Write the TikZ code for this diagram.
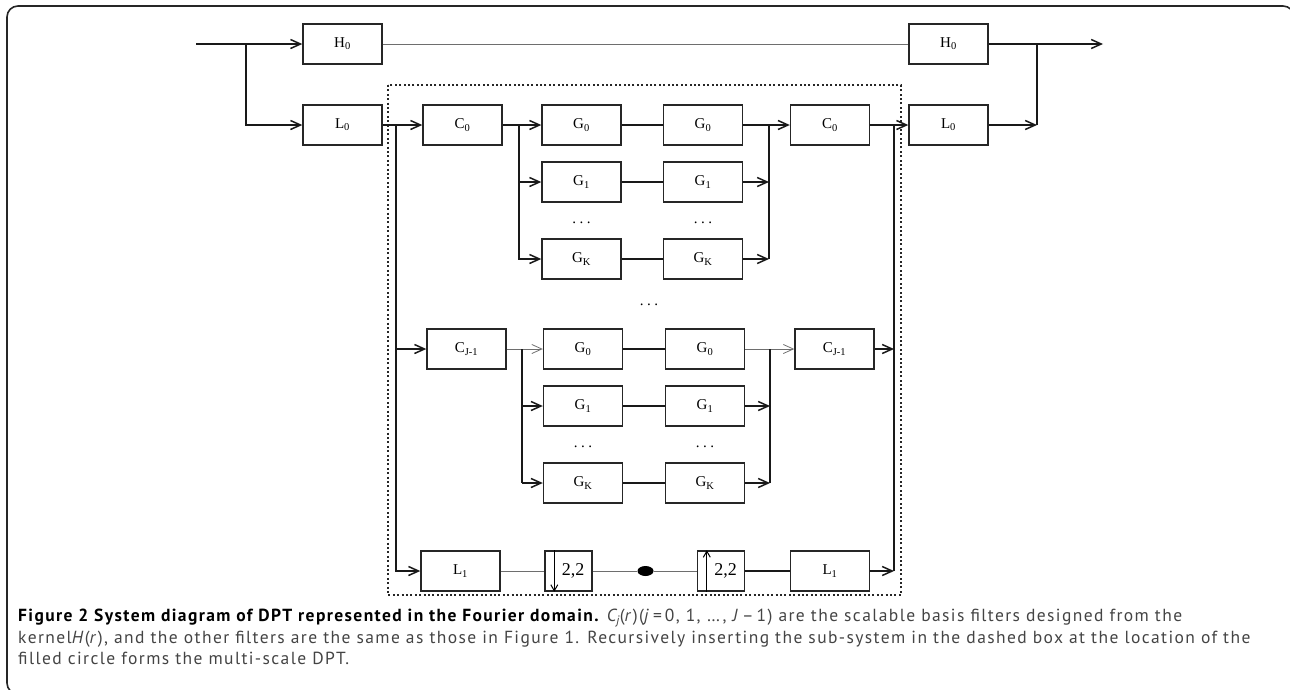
\documentclass[tikz,border=0pt]{standalone}
\usepackage{fontspec}
\usepackage{xcolor}
\usepackage{tikz}
\usetikzlibrary{arrows.meta, shapes.geometric}
\newfontfamily\blockfont{Liberation Serif}
\newfontfamily\capfont[LetterSpace=8]{PT Sans}
\definecolor{linegray}{HTML}{6E6E6E}
\definecolor{captext}{HTML}{444444}

\begin{document}
\begin{tikzpicture}[
    x=1pt, y=-1pt,
    block/.style={
        rectangle, draw=black!85, line width=1.4pt, fill=white,
        minimum width=79pt, minimum height=40pt, inner sep=0pt,
        font=\blockfont\fontsize{15}{16}\selectfont
    },
    smallblock/.style={block, minimum width=47pt, font=\blockfont\fontsize{18}{19}\selectfont},
    dots/.style={inner sep=0pt, font=\blockfont\fontsize{15}{16}\selectfont},
    wire/.style={line width=1.5pt, black!90},
    thinwire/.style={line width=0.8pt, linegray},
    arrow/.style={wire, -{Straight Barb[length=10pt, width=9pt]}},
    thinarrow/.style={thinwire, -{Straight Barb[length=10pt, width=9pt]}},
    updown/.style={line width=1pt, black, -{Straight Barb[length=6pt, width=7pt]}},
    dashbox/.style={line width=1.5pt, black!85, dash pattern=on 2pt off 2.4pt},
    frame/.style={line width=1.6pt, black!85, rounded corners=11pt}
]
\useasboundingbox (0,0) rectangle (1290,689);
\draw[frame] (7,6) rectangle (1294,694);

% high-pass branch
\node[block] (H0a) at (342.5,44) {H\textsubscript{0}};
\node[block] (H0b) at (948.5,44) {H\textsubscript{0}};
\node[block] (L0a) at (342.5,125) {L\textsubscript{0}};
\node[block] (L0b) at (948.5,125) {L\textsubscript{0}};

% sub-system, first scale
\node[block] (C0a) at (462.5,125) {C\textsubscript{0}};
\node[block] (G0a) at (581.5,125) {G\textsubscript{0}};
\node[block] (G0b) at (703,125) {G\textsubscript{0}};
\node[block] (C0b) at (830,125) {C\textsubscript{0}};
\node[block] (G1a) at (581.5,182) {G\textsubscript{1}};
\node[block] (G1b) at (703,182) {G\textsubscript{1}};
\node[dots] (d1a) at (581.5,223) {.\hspace{3.5pt}.\hspace{3.5pt}.};
\node[dots] (d1b) at (703,223) {.\hspace{3.5pt}.\hspace{3.5pt}.};
\node[block] (GKa) at (581.5,259) {G\textsubscript{K}};
\node[block] (GKb) at (703,259) {G\textsubscript{K}};

\node[dots] (dmid) at (649,305) {.\hspace{3.5pt}.\hspace{3.5pt}.};

% sub-system, last scale
\node[block] (CJa) at (466.5,349) {C\textsubscript{J-1}};
\node[block] (G0c) at (583,349) {G\textsubscript{0}};
\node[block] (G0d) at (705,349) {G\textsubscript{0}};
\node[block] (CJb) at (834.5,349) {C\textsubscript{J-1}};
\node[block] (G1c) at (583,406) {G\textsubscript{1}};
\node[block] (G1d) at (705,406) {G\textsubscript{1}};
\node[dots] (d2a) at (583,447) {.\hspace{3.5pt}.\hspace{3.5pt}.};
\node[dots] (d2b) at (705,447) {.\hspace{3.5pt}.\hspace{3.5pt}.};
\node[block] (GKc) at (583,483) {G\textsubscript{K}};
\node[block] (GKd) at (705,483) {G\textsubscript{K}};

% low-pass recursion
\node[block] (L1a) at (460.5,571) {L\textsubscript{1}};
\node[smallblock] (dn) at (568.5,571) {\hspace{9pt}2,2};
\node[ellipse, fill=black, minimum width=16pt, minimum height=10pt, inner sep=0pt] (blob) at (645.5,571) {};
\node[smallblock] (up) at (721,571) {\hspace{9pt}2,2};
\node[block] (L1b) at (830,571) {L\textsubscript{1}};

\coordinate (in) at (196,44);
\coordinate (sp) at (246,44);
\coordinate (mg) at (1037,44);
\coordinate (out) at (1103,44);
\coordinate (vA) at (396,125);
\coordinate (bB) at (519,125);
\coordinate (mM) at (769,125);
\coordinate (vZ) at (894,125);
\coordinate (bC) at (522,349);
\coordinate (mC) at (770,349);

\draw[dashbox] (388,85) rectangle (901,595);

\draw[arrow] (in) -- (H0a);
\draw[arrow] (sp) |- (L0a);
\draw[thinwire] (H0a) -- (H0b);
\draw[arrow] (H0b) -- (out);
\draw[wire] (mg) -- (mg |- L0b);
\draw[arrow] (L0b) -- (L0b -| mg);

\draw[arrow] (L0a) -- (C0a);
\draw[arrow] (vA) |- (L1a);
\draw[arrow] (vA |- CJa) -- (CJa);
\draw[arrow] (C0a) -- (G0a);
\draw[arrow] (bB) |- (G1a);
\draw[arrow] (bB) |- (GKa);
\draw[wire] (G0a) -- (G0b);
\draw[wire] (G1a) -- (G1b);
\draw[wire] (GKa) -- (GKb);
\draw[arrow] (G0b) -- (C0b);
\draw[wire] (mM) -- (mM |- GKb);
\draw[arrow] (G1b) -- (G1b -| mM);
\draw[arrow] (GKb) -- (GKb -| mM);
\draw[arrow] (C0b) -- (L0b);
\draw[wire] (vZ) -- (vZ |- L1b);

\draw[thinarrow] (CJa) -- (G0c);
\draw[wire] (bC) -- (bC |- GKc);
\draw[arrow] (bC |- G1c) -- (G1c);
\draw[arrow] (bC |- GKc) -- (GKc);
\draw[wire] (G0c) -- (G0d);
\draw[wire] (G1c) -- (G1d);
\draw[wire] (GKc) -- (GKd);
\draw[thinarrow] (G0d) -- (CJb);
\draw[wire] (mC) -- (mC |- GKd);
\draw[arrow] (G1d) -- (G1d -| mC);
\draw[arrow] (GKd) -- (GKd -| mC);
\draw[arrow] (CJb) -- (CJb -| vZ);

\draw[thinwire] (L1a) -- (dn);
\draw[thinwire] (dn) -- (blob);
\draw[thinwire] (blob) -- (up);
\draw[wire] (up) -- (L1b);
\draw[arrow] (L1b) -- (L1b -| vZ);
\draw[updown] ([xshift=10pt]dn.north west) -- ([xshift=10pt]dn.south west);
\draw[updown] ([xshift=10pt]up.south west) -- ([xshift=10pt]up.north west);

\node[anchor=north west, align=left, inner sep=0pt, text=captext,
      font=\capfont\fontsize{17.5}{21.5}\selectfont] (cap) at (18,609) {%
  {\bfseries\color{black}Figure 2 System diagram of DPT represented in the Fourier domain.} \textit{C\textsubscript{j}}(\textit{r})(\textit{j}\,=\,0, 1, …, \textit{J}\,–\,1) are the scalable basis filters designed from the\\
  kernel\textit{H}(\textit{r}), and the other filters are the same as those in Figure 1. Recursively inserting the sub-system in the dashed box at the location of the\\
  filled circle forms the multi-scale DPT.};
\end{tikzpicture}
\end{document}
